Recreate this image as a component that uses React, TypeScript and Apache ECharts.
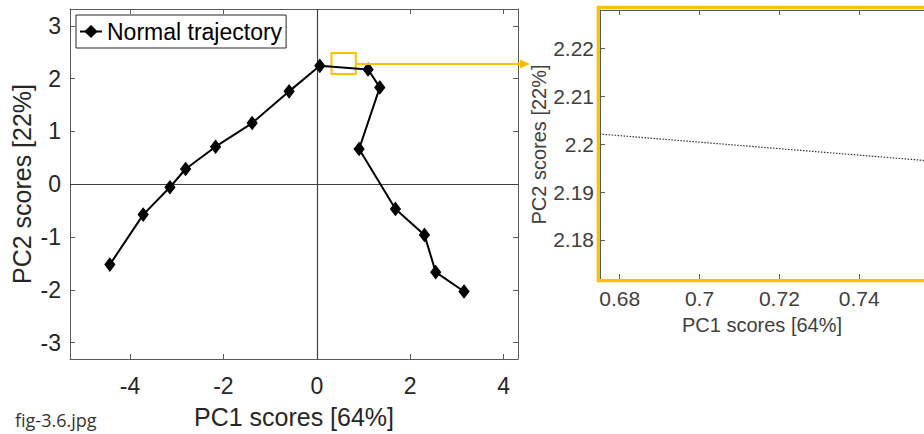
import React, { useEffect, useRef } from "react";
import * as echarts from "echarts";

// ---- data ----
const pc1Scores = [-4.43, -3.716, -3.144, -2.809, -2.167, -1.384, -0.593, 0.064, 1.097, 1.348, 0.905, 1.683, 2.304, 2.545, 3.151];
const pc2Scores = [-1.52, -0.574, -0.056, 0.29, 0.712, 1.16, 1.76, 2.2435, 2.1735, 1.835, 0.668, -0.466, -0.958, -1.663, -2.03];
const seriesName = "Normal trajectory";

const mainXTicks = [-4, -2, 0, 2, 4];
const mainYTicks = [-3, -2, -1, 0, 1, 2, 3];
const mainXRange = [-5.283, 4.306];
const mainYRange = [-3.308, 3.3195];

const insetXTicks = [0.68, 0.7, 0.72, 0.74];
const insetYTicks = [2.18, 2.19, 2.2, 2.21, 2.22];
const insetXRange = [0.67508, 0.75622];
const insetYRange = [2.17185, 2.22798];

const zoomBoxX = [0.314, 0.834];
const zoomBoxY = [2.088, 2.484];

const FONT = "'Liberation Sans', Arial, sans-serif";
const YELLOW = "#FFC000";
const AXIS = "#5a5a5a";

export default function App() {
  const ref = useRef<HTMLDivElement>(null);

  useEffect(() => {
    if (!ref.current) return;
    const chart = echarts.init(ref.current, null, { renderer: "svg" });
    const pts = pc1Scores.map((x, i) => [x, pc2Scores[i]]);

    const tickCommon = (vals: number[], show = true) => ({
      show,
      inside: true,
      length: 5,
      customValues: vals,
      lineStyle: { color: AXIS, width: 1 },
    });

    const option: any = {
      animation: false,
      backgroundColor: "#ffffff",
      textStyle: { fontFamily: FONT },
      grid: [
        { left: 70, top: 9, width: 448, height: 351, containLabel: false },
        { left: 600, top: 10, width: 330, height: 269, containLabel: false },
      ],
      legend: {
        data: [seriesName],
        left: 76,
        top: 15,
        orient: "vertical",
        padding: [5, 4, 5, 3],
        itemWidth: 22,
        itemHeight: 13,
        borderColor: "#262626",
        borderWidth: 1,
        backgroundColor: "#ffffff",
        textStyle: { fontFamily: FONT, fontSize: 23, color: "#000000" },
      },
      xAxis: [
        {
          gridIndex: 0,
          type: "value",
          position: "bottom",
          min: mainXRange[0],
          max: mainXRange[1],
          axisLine: { show: true, onZero: false, lineStyle: { color: AXIS, width: 1 } },
          axisTick: tickCommon(mainXTicks),
          axisLabel: { customValues: mainXTicks, margin: 15, fontSize: 23, color: "#262626", fontFamily: FONT },
          splitLine: { show: false },
          name: "PC1 scores [64%]",
          nameLocation: "middle",
          nameGap: 45,
          nameTextStyle: { fontSize: 25, color: "#262626", fontFamily: FONT },
        },
        {
          gridIndex: 0,
          type: "value",
          position: "top",
          min: mainXRange[0],
          max: mainXRange[1],
          axisLine: { show: true, onZero: false, lineStyle: { color: AXIS, width: 1 } },
          axisTick: tickCommon(mainXTicks),
          axisLabel: { show: false },
          splitLine: { show: false },
        },
        {
          gridIndex: 1,
          type: "value",
          position: "bottom",
          min: insetXRange[0],
          max: insetXRange[1],
          axisLine: { show: true, onZero: false, lineStyle: { color: AXIS, width: 1 } },
          axisTick: tickCommon(insetXTicks),
          axisLabel: { customValues: insetXTicks, margin: 9, fontSize: 21, color: "#404040", fontFamily: FONT },
          splitLine: { show: false },
          name: "PC1 scores [64%]",
          nameLocation: "middle",
          nameGap: 36,
          nameTextStyle: { fontSize: 20, color: "#404040", fontFamily: FONT },
        },
        {
          gridIndex: 1,
          type: "value",
          position: "top",
          min: insetXRange[0],
          max: insetXRange[1],
          axisLine: { show: true, onZero: false, lineStyle: { color: AXIS, width: 1 } },
          axisTick: tickCommon(insetXTicks),
          axisLabel: { show: false },
          splitLine: { show: false },
        },
      ],
      yAxis: [
        {
          gridIndex: 0,
          type: "value",
          position: "left",
          min: mainYRange[0],
          max: mainYRange[1],
          axisLine: { show: true, onZero: false, lineStyle: { color: AXIS, width: 1 } },
          axisTick: tickCommon(mainYTicks),
          axisLabel: { customValues: mainYTicks, margin: 9, fontSize: 23, color: "#262626", fontFamily: FONT },
          splitLine: { show: false },
          name: "PC2 scores [22%]",
          nameLocation: "middle",
          nameGap: 36,
          nameTextStyle: { fontSize: 25, color: "#262626", fontFamily: FONT },
        },
        {
          gridIndex: 0,
          type: "value",
          position: "right",
          min: mainYRange[0],
          max: mainYRange[1],
          axisLine: { show: true, onZero: false, lineStyle: { color: AXIS, width: 1 } },
          axisTick: tickCommon(mainYTicks),
          axisLabel: { show: false },
          splitLine: { show: false },
        },
        {
          gridIndex: 1,
          type: "value",
          position: "left",
          min: insetYRange[0],
          max: insetYRange[1],
          axisLine: { show: true, onZero: false, lineStyle: { color: AXIS, width: 1 } },
          axisTick: tickCommon(insetYTicks),
          axisLabel: { customValues: insetYTicks, margin: 6, fontSize: 21, color: "#404040", fontFamily: FONT },
          splitLine: { show: false },
          name: "PC2 scores [22%]",
          nameLocation: "middle",
          nameGap: 47,
          nameTextStyle: { fontSize: 20, color: "#404040", fontFamily: FONT },
        },
      ],
      series: [
        {
          name: seriesName,
          type: "line",
          xAxisIndex: 0,
          yAxisIndex: 0,
          data: pts,
          symbol: "diamond",
          symbolSize: [10, 13],
          showAllSymbol: true,
          lineStyle: { color: "#000000", width: 2 },
          itemStyle: { color: "#000000", borderColor: "#000000", borderWidth: 1 },
          z: 5,
          markLine: {
            silent: true,
            symbol: ["none", "none"],
            label: { show: false },
            lineStyle: { color: "#404040", width: 1.2, type: "solid" },
            data: [{ xAxis: 0 }, { yAxis: 0 }],
            z: 1,
          },
          markArea: {
            silent: true,
            itemStyle: { color: "rgba(0,0,0,0)", borderColor: YELLOW, borderWidth: 2 },
            label: { show: false },
            data: [[{ coord: [zoomBoxX[0], zoomBoxY[0]] }, { coord: [zoomBoxX[1], zoomBoxY[1]] }]],
          },
        },
        {
          name: "inset",
          type: "line",
          xAxisIndex: 2,
          yAxisIndex: 2,
          data: pts,
          symbol: "none",
          clip: true,
          lineStyle: { color: "#333333", width: 1.2, type: [1.5, 1.5] },
        },
      ],
      graphic: [
        {
          type: "rect",
          shape: { x: 598.3, y: 7.5, width: 400, height: 273.2 },
          style: { fill: "none", stroke: YELLOW, lineWidth: 3.3 },
          z: 100,
        },
        {
          type: "line",
          shape: { x1: 356, y1: 64, x2: 522, y2: 64 },
          style: { stroke: YELLOW, lineWidth: 2 },
          z: 100,
        },
        {
          type: "polygon",
          shape: { points: [[520, 59.5], [530, 64], [520, 68.5]] },
          style: { fill: YELLOW },
          z: 100,
        },
        {
          type: "text",
          left: 15,
          top: 411,
          style: { text: "fig-3.6.jpg", fontSize: 18, fontFamily: "'Open Sans', 'Noto Sans', sans-serif", fill: "#333333" },
        },
      ],
    };

    chart.setOption(option);
    return () => chart.dispose();
  }, []);

  return (
    <div
      ref={ref}
      style={{ position: "absolute", left: 0, top: 0, width: 924, height: 434 }}
    />
  );
}
